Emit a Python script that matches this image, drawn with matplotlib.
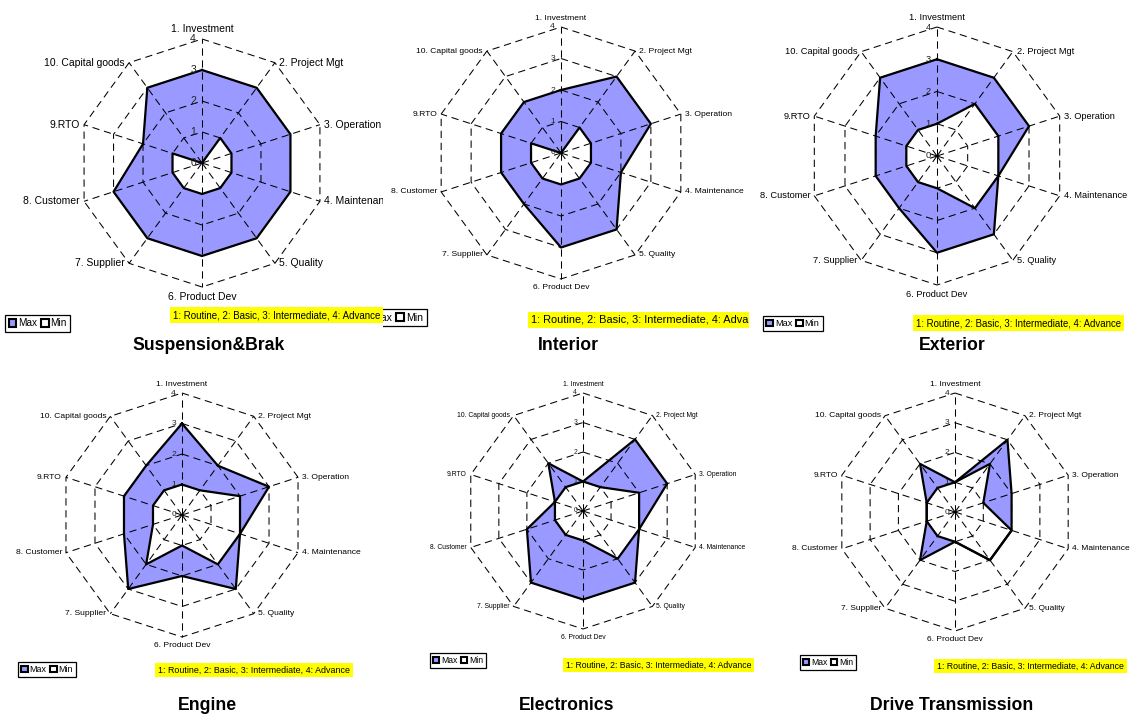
import numpy as np
import matplotlib.pyplot as plt
from matplotlib.patches import Patch
from matplotlib import transforms as mtransforms

plt.rcParams['font.family'] = ['Liberation Sans', 'DejaVu Sans']

# --- data -------------------------------------------------------------
categories = ["1. Investment", "2. Project Mgt", "3. Operation", "4. Maintenance",
              "5. Quality", "6. Product Dev", "7. Supplier", "8. Customer",
              "9.RTO", "10. Capital goods"]
ring_levels = [0, 1, 2, 3, 4]
scale_note = "1: Routine, 2: Basic, 3: Intermediate, 4: Advance"

panel_titles = ["Suspension&Brak", "Interior", "Exterior",
                "Engine", "Electronics", "Drive Transmission"]

max_susp = [3, 3, 3, 3, 3, 3, 3, 3, 2, 3]
min_susp = [0, 1, 1, 1, 1, 1, 1, 1, 1, 0]
max_interior = [2, 3, 3, 2, 3, 3, 2, 2, 2, 2]
min_interior = [0, 1, 1, 1, 1, 1, 1, 1, 1, 0]
max_exterior = [3, 3, 3, 2, 3, 3, 2, 2, 2, 3]
min_exterior = [1, 2, 2, 2, 2, 1, 1, 1, 1, 1]
max_engine = [3, 2, 3, 2, 3, 2, 3, 2, 2, 2]
min_engine = [1, 1, 2, 2, 2, 1, 2, 1, 1, 1]
max_electronics = [1, 3, 3, 2, 3, 3, 3, 2, 1, 2]
min_electronics = [1, 1, 2, 2, 2, 1, 1, 1, 1, 1]
max_drive = [1, 3, 2, 2, 2, 1, 2, 1, 1, 2]
min_drive = [1, 2, 1, 2, 2, 1, 1, 1, 1, 1]

max_series = [max_susp, max_interior, max_exterior, max_engine, max_electronics, max_drive]
min_series = [min_susp, min_interior, min_exterior, min_engine, min_electronics, min_drive]

# --- layout (pixels, origin top-left) ---------------------------------
W, H = 1131, 718
panel_boxes = [(0, 0, 383, 359), (383, 0, 749, 359), (749, 0, 1131, 359),
               (0, 359, 377, 718), (377, 359, 754, 718), (754, 359, 1131, 718)]
centers = [(202, 163), (561, 153), (937, 156), (182, 515), (583, 511), (955, 512)]
radii = [124, 126, 129, 122, 118, 119]
label_fs = [7.5, 6.1, 6.7, 6.1, 4.9, 6.0]
note_pos = [(173, 315), (531, 320), (916, 323), (158, 670), (566, 665), (937, 666)]
note_fs = [7.0, 7.9, 6.9, 6.4, 6.2, 6.3]
legend_pos = [(5, 315, 'upper left'), (427, 309, 'upper right'), (763, 316, 'upper left'),
              (18, 662, 'upper left'), (430, 653, 'upper left'), (800, 655, 'upper left')]
legend_fs = [7.2, 7.6, 6.6, 6.4, 6.2, 6.2]
title_pos = [(209, 345), (568, 345), (952, 345), (207, 705), (567, 705), (952, 705)]
title_fs = 12.7

MAX_COLOR = '#9999FF'
DASH = (0, (7, 4.5))


def px_rect(x0, y0, x1, y1):
    return [x0 / W, 1 - y1 / H, (x1 - x0) / W, (y1 - y0) / H]


def fig_xy(x, y):
    return x / W, 1 - y / H


fig = plt.figure(figsize=(W / 100, H / 100), dpi=100)

n = len(categories)
angles = np.linspace(0, 2 * np.pi, n, endpoint=False)
closed_angles = np.append(angles, angles[0])

for i in range(6):
    # white background panel, also used as clip region for texts
    bg = fig.add_axes(px_rect(*panel_boxes[i]), zorder=20 - 2 * i)
    bg.set_xticks([])
    bg.set_yticks([])
    for s in bg.spines.values():
        s.set_visible(False)
    bg.patch.set_facecolor('white')

    cx, cy = centers[i]
    R = radii[i]
    ax = fig.add_axes(px_rect(cx - R, cy - R, cx + R, cy + R), projection='polar',
                      zorder=21 - 2 * i)
    ax.set_theta_zero_location('N')
    ax.set_theta_direction(-1)
    ax.set_ylim(0, ring_levels[-1])
    ax.axis('off')

    vmax = np.append(max_series[i], max_series[i][0])
    vmin = np.append(min_series[i], min_series[i][0])

    ax.fill(closed_angles, vmax, facecolor=MAX_COLOR, edgecolor='none', zorder=1)
    ax.fill(closed_angles, vmin, facecolor='white', edgecolor='none', zorder=2)

    # dashed decagon grid and spokes
    for k in ring_levels[1:]:
        ax.plot(closed_angles, [k] * (n + 1), color='black', lw=0.75, ls=DASH,
                zorder=3, clip_on=False)
    for a in angles:
        ax.plot([a, a], [0, ring_levels[-1]], color='black', lw=0.75, ls=DASH,
                zorder=3, clip_on=False)

    ax.plot(closed_angles, vmax, color='black', lw=1.6, zorder=4, clip_on=False)
    ax.plot(closed_angles, vmin, color='black', lw=1.6, zorder=4, clip_on=False)

    # scale values along the first axis
    val_tr = mtransforms.offset_copy(ax.transData, fig=fig, x=-6, y=0, units='dots')
    for k in ring_levels:
        ax.text(0, k, str(k), transform=val_tr, ha='right', va='center',
                fontsize=label_fs[i], color='#222222', zorder=6)

    # category labels around the outer ring
    for j, (a, lab) in enumerate(zip(angles, categories)):
        if j == 0:
            dx, dy, ha, va = 0, 5, 'center', 'bottom'
        elif j == n // 2:
            dx, dy, ha, va = 0, -5, 'center', 'top'
        elif j < n // 2:
            dx, dy, ha, va = 4, 0, 'left', 'center'
        else:
            dx, dy, ha, va = -4, 0, 'right', 'center'
        tr = mtransforms.offset_copy(ax.transData, fig=fig, x=dx, y=dy, units='dots')
        bg.text(a, ring_levels[-1], lab, transform=tr, ha=ha, va=va,
                fontsize=label_fs[i], clip_on=True)

    # scale note in a yellow box
    nx, ny = fig_xy(*note_pos[i])
    bg.text(nx, ny, scale_note, transform=fig.transFigure, ha='left', va='center',
            fontsize=note_fs[i], clip_on=True,
            bbox=dict(boxstyle='square,pad=0.3', facecolor='yellow', edgecolor='none'))

    # legend
    lx, ly, loc = legend_pos[i]
    handles = [Patch(facecolor=MAX_COLOR, edgecolor='black', lw=1.5, label='Max'),
               Patch(facecolor='white', edgecolor='black', lw=1.5, label='Min')]
    leg = bg.legend(handles=handles, loc=loc, bbox_to_anchor=fig_xy(lx, ly),
                    bbox_transform=fig.transFigure, ncol=2, fontsize=legend_fs[i],
                    frameon=True, fancybox=False, edgecolor='black', framealpha=1,
                    borderaxespad=0, borderpad=0.35, handlelength=0.75,
                    handleheight=0.75, handletextpad=0.2, columnspacing=0.4)
    leg.get_frame().set_linewidth(0.9)

    tx, ty = fig_xy(*title_pos[i])
    bg.text(tx, ty, panel_titles[i], transform=fig.transFigure, ha='center',
            va='center', fontsize=title_fs, fontweight='bold', clip_on=True)

fig.savefig('out.png', dpi=100)
